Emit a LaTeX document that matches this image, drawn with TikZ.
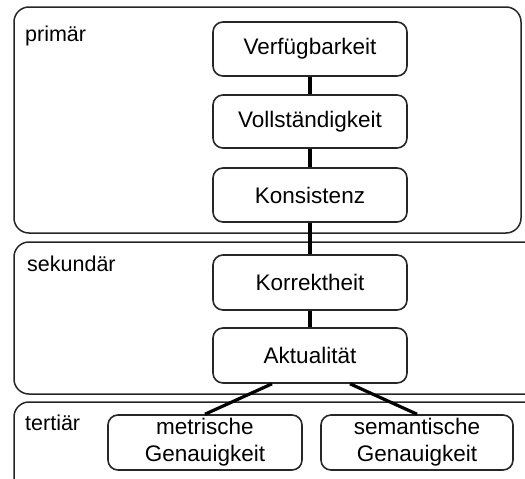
\documentclass[tikz,border=0pt]{standalone}
\usepackage{fontspec}
\setmainfont{Liberation Sans}
\usetikzlibrary{calc}
\begin{document}
\begin{tikzpicture}[x=1pt,y=-1pt,
  layer/.style={draw=black!85,line width=1.5pt,rounded corners=15pt},
  layerlabel/.style={anchor=north west,inner sep=0pt,font=\fontsize{21.5pt}{26pt}\selectfont},
  item/.style={draw=black!85,line width=1.6pt,rounded corners=10pt,minimum width=194pt,
    inner sep=0pt,align=center,font=\fontsize{22.5pt}{27pt}\selectfont},
  link/.style={line width=3.2pt,black}]
\useasboundingbox (0,0) rectangle (525,479);
\begin{scope}
\clip (0,0) rectangle (525,479);
% layer frames
\draw[layer] (14,7) rectangle (521,233);
\draw[layer] (14,242) rectangle (540,394);
\draw[layer] (14,402) rectangle (540,520);
\end{scope}
\node[layerlabel] (lp) at (25,26) {primär};
\node[layerlabel] (ls) at (27,256) {sekundär};
\node[layerlabel] (lt) at (25,415) {tertiär};
% quality criteria
\node[item,minimum height=54pt] (verf) at (310,49) {Verfügbarkeit};
\node[item,minimum height=53pt] (voll) at (310,121.5) {Vollständigkeit};
\node[item,minimum height=54pt] (kons) at (310,195) {Konsistenz};
\node[item,minimum height=55pt] (korr) at (310,282.5) {Korrektheit};
\node[item,minimum height=55pt] (akt) at (310,355.5) {Aktualität};
\node[item,minimum height=55pt] (met) at (205,442.5) {metrische\\Genauigkeit};
\node[item,minimum height=55pt,minimum width=192pt] (sem) at (417,442.5) {semantische\\Genauigkeit};
% connectors
\draw[link] (verf) -- (voll);
\draw[link] (voll) -- (kons);
\draw[link] (kons) -- (korr);
\draw[link] (korr) -- (akt);
\coordinate (aktl) at ($(akt.south)+(-38,0)$);
\coordinate (aktr) at ($(akt.south)+(40,0)$);
\draw[link] (aktl) -- (met.north);
\draw[link] (aktr) -- (sem.north);
\end{tikzpicture}
\end{document}
